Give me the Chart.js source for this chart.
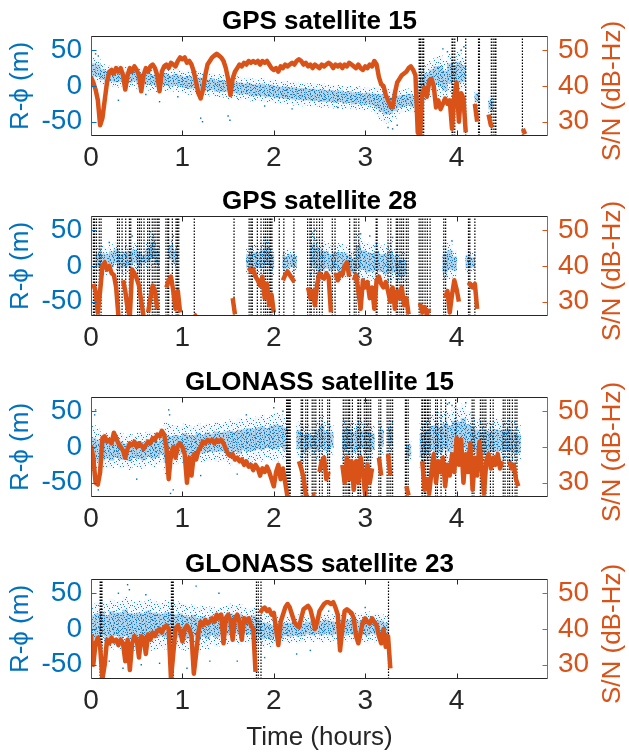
<!DOCTYPE html>
<html>
<head>
<meta charset="utf-8">
<title>Satellite residuals and S/N</title>
<script src="https://cdn.jsdelivr.net/npm/chart.js@4.4.1/dist/chart.umd.min.js"></script>
<style>
  html, body { margin: 0; padding: 0; background: #fff; }
  body { position: relative; width: 629px; height: 754px; overflow: hidden; }
  canvas { position: absolute; left: 0; }
</style>
</head>
<body>
<canvas id="gps15" width="629" height="175" style="top:0px;width:629px;height:175px"></canvas>
<canvas id="gps28" width="629" height="175" style="top:180px;width:629px;height:175px"></canvas>
<canvas id="glo15" width="629" height="175" style="top:361px;width:629px;height:175px"></canvas>
<canvas id="glo23" width="629" height="211" style="top:543px;width:629px;height:211px"></canvas>
<script>
const SNR_STEP = 0.025; // hours between S/N samples
const RPHI_BIN = 0.05;  // hours per R-phi spread bin

const X_TICKS = [0, 1, 2, 3, 4];
const R_TICKS = [-50, 0, 50];
const SNR_TICKS = [30, 40, 50];

// ---- GPS satellite 15 ----
const gps15Snr = [
  42.5, 41, 39, 36, 29, 31, 36, 41, 44, 44.5, 43.5, 45, 44, 45, 43, 39,
  43, 45, 44, 45.5, 44.5, 43, 38.5, 43, 45, 44, 45.5, 46, 45, 43, 38.5, 44,
  45.5, 46, 45, 46.5, 46, 45.5, 47, 48, 47.5, 48, 46.5, 47, 46, 44, 41, 38,
  36.5, 39, 43, 46, 47, 48, 48.5, 49, 48.5, 48, 47, 45, 42, 37.5, 42, 44,
  45, 46, 45.5, 46.5, 46, 47, 46.5, 47, 46.5, 47, 46, 47, 46.5, 47, 46, 45,
  44.5, 45, 44, 45.5, 45, 46, 45.5, 46, 46.5, 46, 47, 47.5, 47, 46, 46.5, 45.5,
  46, 45, 46, 45.5, 45, 46, 45.5, 46, 46.5, 46, 45, 46, 45.5, 46, 45, 46,
  45.5, 46.5, 46, 45.5, 45, 46, 45, 44.5, 45.5, 45, 46, 45.5, 47, 46, 42.5, 40.5,
  40, 37.5, 36, 34.5, 34, 38, 41, 42, 43, 43.5, 44, 45, 45.5, 44.5, 43, 27,
  26, 38, 39.5, 37, 41.5, 42, 40, 34, 36, 33.5, 35, 36.5, 35, 36, 28, 37,
  41, 30, 38, 36.5, 27, null, null, null, 35, 30, null, null, null, null, 32, 29,
  28.5, null, null, null, null, null, null, null, null, null, null, null, null, 28, 26.5
];
const gps15Lo = [
  5, 5, 2, 0, 0, -2, 0, -3, -2, 0,
  -5, -4, -6, -5, -8, -6, -7, -8, -6, -8,
  -10, -12, -10, -14, -12, -14, -13, -15, -16, -15,
  -18, -17, -20, -18, -20, -22, -21, -22, -23, -22,
  -25, -24, -26, -25, -27, -26, -28, -27, -29, -28,
  -30, -29, -30, -31, -30, -32, -31, -33, -32, -34,
  -33, -35, -40, -48, -52, -50, -45, -38, -36, -35,
  -37, -30, -25, -20, -15, -10, -15, -20, -10, -5,
  -10, -5, null, null, -28, null, null, -38
];
const gps15Hi = [
  40, 38, 30, 28, 27, 28, 26, 27, 25, 27,
  25, 24, 26, 22, 24, 23, 25, 22, 24, 22,
  20, 22, 18, 20, 18, 16, 18, 15, 16, 14,
  14, 12, 13, 10, 12, 10, 9, 11, 8, 9,
  8, 6, 7, 5, 6, 4, 5, 3, 4, 2,
  3, 1, 2, 0, 1, -1, 0, -2, -1, -3,
  -2, -3, -2, 0, -3, -5, -4, -6, -5, -4,
  -6, 0, 25, 30, 35, 40, 42, 35, 45, 40,
  48, 40, null, null, -5, null, null, -15
];
const gps15StrayT = [0.05, 0.08, 0.3, 0.6, 0.75, 0.95, 1.2, 1.22, 1.5, 1.52, 1.9, 2.2, 2.7, 3.25, 3.3, 3.35, 3.85, 3.9, 4.05, 4.08];
const gps15StrayR = [45, 42, -20, -12, -22, -15, -45, -50, -42, -48, -28, -32, -30, -58, -60, -55, 52, 48, 50, 55];
const gps15Slips = [3.59, 3.60, 3.61, 3.63, 3.64, 3.95, 3.96, 3.98, 4.10, 4.24, 4.25, 4.38, 4.40, 4.42, 4.43, 4.72];

// ---- GPS satellite 28 ----
const gps28Snr = [
  null, 35, 33, 27, 33, 40, 41, 39, 40, 38, 37.5, 34, 26, null, 36, 33,
  28, 26, 39, 38, 36.5, 34.5, 30, 26, null, 27, 31, 34.5, 33, 28, null, null,
  null, 34, 36, 37, 33, 28, 33, 27, null, null, null, null, null, 26.5, 26, null,
  null, null, null, null, null, null, null, null, null, null, null, null, null, null, 31, 26.5,
  null, null, null, null, null, 39.5, 38.5, 39, 37, 36, 34.5, 37, 31, 35, 29, 32,
  27, null, null, null, 36, 37.5, 38.5, 37.5, 36.5, 35.5, null, null, null, null, null, 34,
  31, 33, 29, 35, 38, 37, 36.5, 38, 37, 27, null, 38, 36, 38, 37.5, 40,
  41, 37, null, 36, 37.5, 33, 28, 36, 34, 35.5, 31, 34, 28, 36, 37, 35,
  34, 35.5, 33, 30, 34, 28, 33, 31, 34, 29, 31, 26.5, null, null, null, null,
  29.5, 27, 28.5, 26.5, 28, null, null, null, null, null, null, 31, 33, 27, 32, 36,
  33.5, 30, null, null, null, 34.5, 35, 34, 35, 28
];
const gps28Lo = [
  null, -10, -15, -12, -10, -5, -10, -12, -8, -5,
  -8, 0, -5, 0, -5, null, null, 0, -5, null,
  null, null, null, null, null, null, null, null, null, null,
  null, null, null, null, -10, -15, -12, -15, -10, -12,
  null, null, -12, -10, -8, null, null, null, -15, -18,
  -20, -15, -18, -15, -20, -18, -15, -20, -20, -18,
  -22, -20, -18, -20, -25, -22, -20, -25, -22, null,
  null, null, null, null, null, null, null, -20, -18, -15,
  null, null, -10, -8
];
const gps28Hi = [
  null, 25, 28, 25, 30, 32, 25, 30, 28, 32,
  28, 20, 35, 45, 30, null, null, 38, 30, null,
  null, null, null, null, null, null, null, null, null, null,
  null, null, null, null, 25, 30, 28, 35, 38, 25,
  null, null, 22, 25, 20, null, null, null, 45, 40,
  35, 32, 28, 30, 32, 30, 25, 20, 45, 35,
  32, 30, 33, 28, 30, 35, 25, 20, 18, null,
  null, null, null, null, null, null, null, 28, 35, 22,
  null, null, 22, 18
];
const gps28StrayT = [0.2, 0.45, 0.65, 0.68, 0.9, 1.9, 2.42, 2.45, 2.6, 2.95, 3.05, 3.2, 3.3, 3.95];
const gps28StrayR = [33, 42, 48, 40, 42, 40, 46, 50, -28, 45, 42, -30, 40, 35];
const gps28Slips = [
  0.005, 0.027, 0.04, 0.06, 0.09, 0.11, 0.29, 0.31, 0.34, 0.38, 0.42, 0.435, 0.51, 0.53, 0.55,
  0.58, 0.62, 0.64, 0.67, 0.69, 0.71, 0.73, 0.745, 0.82, 0.84, 0.85, 0.89, 0.93, 0.945, 0.96,
  1.13, 1.565, 1.73, 1.75, 1.765, 1.82, 1.86, 1.89, 1.91, 1.93, 1.95, 1.965, 1.98, 2.06, 2.11,
  2.22, 2.37, 2.395, 2.41, 2.44, 2.47, 2.50, 2.53, 2.64, 2.67, 2.83, 2.88, 2.90, 2.93, 3.12,
  3.13, 3.25, 3.28, 3.34, 3.355, 3.38, 3.40, 3.42, 3.45, 3.47, 3.59, 3.61, 3.63, 3.655, 3.68,
  3.71, 3.86, 3.88, 4.13, 4.145, 4.20
];

// ---- GLONASS satellite 15 ----
const glo15Snr = [
  40.5, 37, 30, 29.5, 33, 42.5, 43, 41.5, 42, 41, 44, 42.5, 41, 40, 39, 37,
  39.5, 41, 40.5, 41.5, 40, 41, 40.5, 39.5, 40.5, 41.5, 41, 42.5, 42, 43.5, 43, 44.5,
  43.5, 40, 31, 38, 40, 37, 40.5, 41, 40, 38, 30, 37, 32, 38, 36.5, 39,
  40, 41.5, 41, 42, 41.5, 42, 41, 42, 41.5, 42, 41, 39.5, 38, 37.5, 38, 36.5,
  37, 36, 36.5, 35, 36, 34.5, 35, 33.5, 35, 34, 32, 34, 33, 34.5, 33, 31,
  29, 33, 35, 31, 34, 30, 26, null, null, null, null, 36, 34, 31.5, 26.5, 26,
  null, 27, 26.5, null, 33, 36, 37, 31, 33, null, null, null, null, null, 35, 30,
  37, 31, 36, 28, 36, 30, 37, 33, 26.5, 35, 30, 34, null, null, 37, 32,
  null, null, 38, 32, null, null, null, null, null, null, 29, 26.5, null, null, null, null,
  null, 36, 28, 31, 27, 33, 38, 30, 36, 33, 37, 29, 35, 32, 38, 33,
  42.5, 35, 42, 30, 38, 33, 41, 28, 37, 32, 41.5, 34, 27, 36, 38, 34,
  37, 35, 38, 34, 36, null, null, 36, 34, 35, 31, 29
];
const glo15Lo = [
  -40, -35, -30, -28, -30, -25, -30, -28, -32, -25,
  -28, -30, -25, -28, -25, -22, -40, -30, -25, -22,
  -20, -25, -20, -18, -22, -20, -18, -20, -18, -20,
  -25, -20, -25, -18, -22, -20, -18, -20, -15, -18,
  -20, -15, -20, null, null, -15, -20, -15, -10, -20,
  -15, -18, -10, null, null, -20, -15, -22, -18, -15,
  -20, -15, null, -10, null, -10, null, null, null, -20,
  null, null, -30, -25, -20, -30, -25, -20, -25, -20,
  -25, -20, -25, -20, -25, -22, -25, -20, -22, -20,
  -18, -20, -22, -20
];
const glo15Hi = [
  30, 25, 18, 20, 15, 18, 20, 15, 18, 15,
  20, 18, 22, 20, 18, 25, 35, 30, 30, 28,
  32, 30, 28, 32, 30, 33, 30, 35, 32, 35,
  38, 35, 40, 38, 42, 40, 42, 45, 40, 45,
  48, 45, 42, null, null, 35, 30, 30, 25, 38,
  45, 35, 30, null, null, 40, 38, 35, 42, 35,
  38, 30, null, 35, null, 38, null, null, null, 10,
  null, null, 35, 40, 45, 50, 45, 50, 48, 55,
  55, 60, 50, 45, 40, 35, 38, 35, 40, 38,
  35, 40, 35, 30
];
const glo15StrayT = [0.04, 0.05, 0.08, 0.5, 0.85, 0.86, 0.87, 0.9, 1.2, 1.6, 1.7, 2.0, 2.1, 2.9, 3.92, 3.95, 3.9, 4.1, 4.3];
const glo15StrayR = [45, 52, -60, -45, 52, 45, -65, -60, -40, -38, 45, 55, 50, -35, 62, 58, 60, 62, -40];
const glo15Slips = [
  2.14, 2.15, 2.16, 2.17, 2.18, 2.30, 2.315, 2.35, 2.37, 2.42, 2.44, 2.46, 2.50, 2.53, 2.59,
  2.61, 2.76, 2.78, 2.80, 2.82, 2.83, 2.86, 2.92, 2.93, 2.95, 2.99, 3.01, 3.02, 3.04, 3.06,
  3.15, 3.17, 3.24, 3.26, 3.28, 3.30, 3.44, 3.45, 3.47, 3.62, 3.63, 3.65, 3.66, 3.68, 3.69,
  3.71, 3.77, 3.79, 3.83, 3.88, 3.99, 4.17, 4.19, 4.26, 4.28, 4.30, 4.32, 4.37, 4.40, 4.51,
  4.53, 4.56, 4.58, 4.61, 4.64, 4.66
];

// ---- GLONASS satellite 23 ----
const glo23Snr = [
  38.5, 30, 36, 37.5, 35, 26, 30, 37, 36, 37.5, 36.5, 37, 35.5, 37, 36, 31,
  37, 28.5, 36, 38, 37, 32, 38, 37.5, 33, 38.5, 37, 39, 38, 39.5, 40, 39,
  40.5, 41, 40, 26, 33, 40, 41, 39.5, 36.5, 40, 41, 40, 38, 27.5, 33, 39,
  42, 41, 42.5, 41.5, 42, 43, 42, 44, 43, 44, 36, 43, 44, 42.5, 37, 43,
  44, 42, 37, 43, 42, 43, 41, 40, 28, null, 44.5, 45.5, 46, 45, 45.5, 44,
  44.5, 40, 35.5, 42, 44, 46, 47, 46, 44, 42, 41, 40.5, 43, 45.5, 46, 46.5,
  45.5, 43, 40, 42, 45, 46, 47, 47.5, 47.5, 47, 47.5, 46, 44, 34, 40, 45,
  45.5, 45, 44.5, 43, 38, 36, 39, 42, 43, 42, 41.5, 43, 42, 41, 38, 36,
  40, 35, 38, 29
];
const glo23Lo = [
  -30, -28, -25, -30, -28, -25, -30, -28, -32, -30,
  -30, -28, -25, -30, -28, -25, -28, -22, -25, -28,
  -30, -28, -25, -30, -25, -28, -22, -25, -20, -22,
  -20, -18, -22, -18, -20, -15, -18, -25, -22, -25,
  -20, -22, -18, -20, -18, -20, -18, -15, -18, -15,
  -18, -15, -18, -15, -20, -18, -15, -18, -15, -18,
  -20, -15, -18, -15, -20
];
const glo23Hi = [
  35, 38, 40, 35, 42, 38, 40, 45, 40, 38,
  40, 38, 42, 40, 38, 36, 40, 38, 35, 38,
  35, 32, 34, 30, 32, 30, 32, 28, 30, 32,
  35, 32, 35, 30, 28, 30, 25, 20, 18, 15,
  18, 15, 16, 18, 18, 20, 16, 18, 20, 18,
  20, 22, 20, 18, 22, 20, 22, 24, 20, 22,
  24, 20, 22, 20, 18
];
const glo23StrayT = [0.2, 0.3, 0.35, 0.4, 0.42, 0.55, 0.6, 0.75, 0.9, 1.05, 1.15, 1.3, 1.4, 1.6, 1.9, 2.25, 2.4, 2.6, 3.0];
const glo23StrayR = [-45, 50, -55, 62, 55, -50, 48, -48, -60, -55, 60, -45, 50, -45, -40, -35, -30, 25, 30];
const glo23Slips = [0.10, 0.11, 0.12, 0.88, 0.89, 0.90, 1.81, 1.83, 1.86, 3.255];

const BLUE = '#0072BD';
const ORANGE = '#D95319';
const INK = '#262626';
const FONT = "'Liberation Sans', Arial, Helvetica, 'DejaVu Sans', sans-serif";

// speckle fills so the R-phi spread reads like a cloud of single-epoch dots
function speckle(w, h, bg, dots) {
  const tile = document.createElement('canvas');
  tile.width = w; tile.height = h;
  const g = tile.getContext('2d');
  if (bg) { g.fillStyle = bg; g.fillRect(0, 0, w, h); }
  g.fillStyle = 'rgba(0,114,189,0.85)';
  dots.forEach(([x, y]) => g.fillRect(x, y, 1, 1));
  return g.createPattern(tile, 'repeat');
}
const sparseFill = speckle(17, 11, 'rgba(0,114,189,0.05)', [
  [0, 0], [6, 1], [12, 2], [3, 3], [15, 4], [9, 5], [1, 6], [13, 7],
  [5, 8], [10, 9], [16, 10], [7, 10], [2, 9], [14, 1], [8, 3], [11, 7],
  [4, 6], [15, 8]
]);
const denseFill = speckle(13, 9, 'rgba(0,114,189,0.26)', [
  [0, 0], [4, 0], [9, 1], [2, 2], [7, 2], [11, 3], [5, 4],
  [0, 5], [9, 5], [3, 6], [12, 6], [6, 7], [1, 8], [10, 8], [8, 4], [12, 0]
]);

// box, inward ticks and the right-hand label
const frame = {
  id: 'frame',
  afterDraw(chart) {
    const { ctx, chartArea: a, scales } = chart;
    const L = Math.round(a.left) + 0.5, R = Math.round(a.right) - 0.5;
    const T = Math.round(a.top) + 0.5, B = Math.round(a.bottom) - 0.5;
    ctx.save();
    ctx.lineWidth = 1;

    ctx.strokeStyle = INK;
    ctx.beginPath();
    ctx.moveTo(L, T); ctx.lineTo(R, T);
    ctx.moveTo(L, B); ctx.lineTo(R, B);
    scales.x.ticks.forEach(t => {
      const px = Math.round(scales.x.getPixelForValue(t.value)) + 0.5;
      if (px - L < 2 || R - px < 2) return;
      ctx.moveTo(px, B); ctx.lineTo(px, B - 5);
      ctx.moveTo(px, T); ctx.lineTo(px, T + 5);
    });
    ctx.stroke();

    ctx.strokeStyle = BLUE;
    ctx.beginPath();
    ctx.moveTo(L, T - 0.5); ctx.lineTo(L, B + 0.5);
    scales.yL.ticks.forEach(t => {
      const py = Math.round(scales.yL.getPixelForValue(t.value)) + 0.5;
      ctx.moveTo(L, py); ctx.lineTo(L + 5, py);
    });
    ctx.stroke();

    ctx.strokeStyle = ORANGE;
    ctx.beginPath();
    ctx.moveTo(R, T - 0.5); ctx.lineTo(R, B + 0.5);
    scales.yR.ticks.forEach(t => {
      const py = Math.round(scales.yR.getPixelForValue(t.value)) + 0.5;
      ctx.moveTo(R, py); ctx.lineTo(R - 5, py);
    });
    ctx.stroke();

    ctx.translate(613, (a.top + a.bottom) / 2 + 5);
    ctx.rotate(-Math.PI / 2);
    ctx.fillStyle = ORANGE;
    ctx.font = '26px ' + FONT;
    ctx.textAlign = 'center';
    ctx.textBaseline = 'middle';
    ctx.fillText('S/N (dB-Hz)', 0, 0);
    ctx.restore();
  }
};

function makePanel(id, title, snr, lo, hi, strayT, strayR, slips, withTime) {
  const canvas = document.getElementById(id);
  const plotBottom = 136;
  const xHeight = canvas.height - plotBottom;

  const snrPts = snr.map((v, i) => ({ x: i * SNR_STEP, y: v }));
  const spread = lo.map((v, i) => ({
    x: (i + 0.5) * RPHI_BIN,
    y: v == null ? null : [v, hi[i]]
  }));
  const core = lo.map((v, i) => {
    if (v == null) return { x: (i + 0.5) * RPHI_BIN, y: null };
    const q = (hi[i] - v) / 4;
    return { x: (i + 0.5) * RPHI_BIN, y: [v + q, hi[i] - q] };
  });
  const stray = strayT.map((t, i) => ({ x: t, y: strayR[i] }));
  const slipPts = [];
  slips.forEach(t => {
    slipPts.push({ x: t, y: -70 }, { x: t, y: 70 }, { x: t, y: null });
  });

  const tickFont = { family: FONT, size: 28 };

  return new Chart(canvas, {
    type: 'line',
    data: {
      datasets: [
        {
          type: 'line', data: snrPts, yAxisID: 'yR', order: 0,
          borderColor: ORANGE, borderWidth: 4.5, pointRadius: 0,
          borderJoinStyle: 'round', spanGaps: false, tension: 0, clip: 0
        },
        {
          type: 'line', data: slipPts, yAxisID: 'yL', order: 1,
          borderColor: '#000', borderWidth: 1.2, borderDash: [1.5, 1.5],
          pointRadius: 0, spanGaps: false, clip: 0
        },
        {
          type: 'scatter', data: stray, yAxisID: 'yL', order: 2,
          backgroundColor: BLUE, borderWidth: 0, pointRadius: 1, pointStyle: 'rect', clip: 0
        },
        {
          type: 'bar', data: core, yAxisID: 'yL', order: 3,
          backgroundColor: denseFill, borderWidth: 0,
          barPercentage: 1, categoryPercentage: 1, grouped: false, clip: 0
        },
        {
          type: 'bar', data: spread, yAxisID: 'yL', order: 4,
          backgroundColor: sparseFill, borderWidth: 0,
          barPercentage: 1, categoryPercentage: 1, grouped: false, clip: 0
        }
      ]
    },
    options: {
      responsive: false,
      animation: false,
      events: [],
      layout: { padding: 0 },
      plugins: {
        legend: { display: false },
        tooltip: { enabled: false },
        title: {
          display: true, text: title, fullSize: false, color: '#000',
          font: { family: FONT, size: 26, weight: 'bold', lineHeight: 1 },
          padding: { top: 8.5, bottom: 1.5 }
        }
      },
      scales: {
        x: {
          type: 'linear', min: 0, max: 5, offset: false,
          afterBuildTicks: s => { s.ticks = X_TICKS.map(v => ({ value: v })); },
          afterFit: s => { s.height = xHeight; },
          grid: { display: false, drawTicks: false },
          border: { display: false },
          ticks: { color: INK, font: tickFont, padding: 5, maxRotation: 0, autoSkip: false },
          title: {
            display: withTime, text: 'Time (hours)', color: INK,
            font: { family: FONT, size: 26 }, padding: { top: 0, bottom: 1 }
          }
        },
        yL: {
          type: 'linear', position: 'left', min: -70, max: 70,
          afterBuildTicks: s => { s.ticks = R_TICKS.map(v => ({ value: v })); },
          afterFit: s => { s.width = 91; },
          grid: { display: false, drawTicks: false },
          border: { display: false },
          ticks: { color: BLUE, font: tickFont, padding: 9 },
          title: {
            display: true, text: 'R-ϕ (m)', color: BLUE,
            font: { family: FONT, size: 26 }, padding: { top: 5, bottom: 0 }
          }
        },
        yR: {
          type: 'linear', position: 'right', min: 26, max: 54,
          afterBuildTicks: s => { s.ticks = SNR_TICKS.map(v => ({ value: v })); },
          afterFit: s => { s.width = 81; },
          grid: { display: false, drawTicks: false },
          border: { display: false },
          ticks: { color: ORANGE, font: tickFont, padding: 10 }
        }
      }
    },
    plugins: [frame]
  });
}

makePanel('gps15', 'GPS satellite 15', gps15Snr, gps15Lo, gps15Hi, gps15StrayT, gps15StrayR, gps15Slips, false);
makePanel('gps28', 'GPS satellite 28', gps28Snr, gps28Lo, gps28Hi, gps28StrayT, gps28StrayR, gps28Slips, false);
makePanel('glo15', 'GLONASS satellite 15', glo15Snr, glo15Lo, glo15Hi, glo15StrayT, glo15StrayR, glo15Slips, false);
makePanel('glo23', 'GLONASS satellite 23', glo23Snr, glo23Lo, glo23Hi, glo23StrayT, glo23StrayR, glo23Slips, true);
</script>
</body>
</html>
